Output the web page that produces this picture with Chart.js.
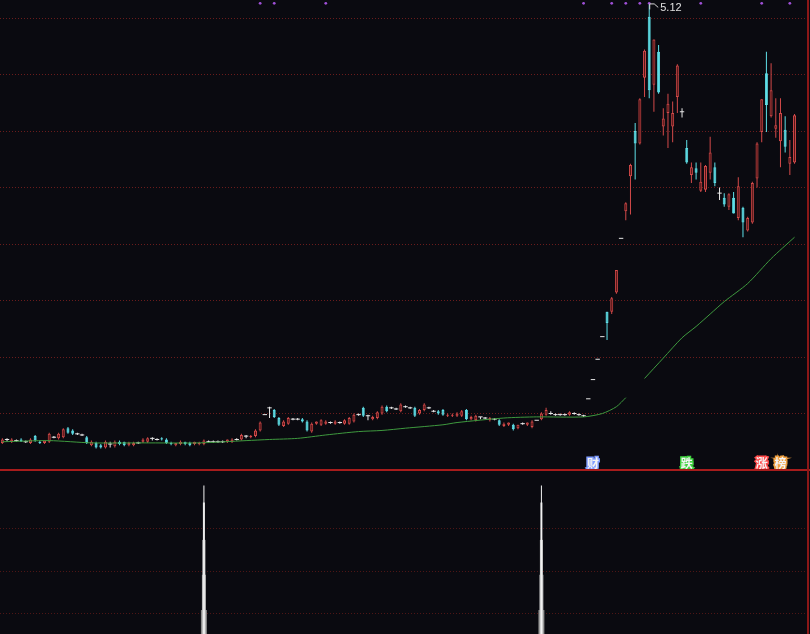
<!DOCTYPE html>
<html><head><meta charset="utf-8">
<script src="https://cdn.jsdelivr.net/npm/chart.js@4/dist/chart.umd.min.js"></script>
<style>
html,body{margin:0;padding:0;background:#0a0a10;}
#wrap{position:relative;width:810px;height:634px;overflow:hidden;background:#0a0a10;}
#c1{position:absolute;left:0;top:0;}
#c2{position:absolute;left:0;top:472px;}
#sep{position:absolute;left:0;top:469px;width:810px;height:2px;background:#a81c1c;}
#rb{position:absolute;left:807px;top:0;width:2px;height:634px;background:#8c1818;}
</style></head><body>
<div id="wrap">
<canvas id="c1" width="810" height="470"></canvas>
<canvas id="c2" width="810" height="162"></canvas>
<div id="sep"></div><div id="rb"></div>
</div>
<script>
// ---- data (daily candles, index 0..169) ----
const opens = [1.24,1.27,1.25,1.26,1.27,1.25,1.24,1.30,1.25,1.24,1.25,1.29,1.28,1.29,1.37,1.35,1.32,1.31,1.29,1.22,
1.24,1.22,1.20,1.23,1.21,1.25,1.25,1.22,1.22,1.24,1.25,1.25,1.28,1.27,1.28,1.27,1.24,1.22,1.23,1.25,
1.24,1.23,1.23,1.23,1.25,1.25,1.25,1.25,1.25,1.25,1.27,1.27,1.30,1.29,1.30,1.35,1.49,1.55,1.53,1.46,
1.39,1.41,1.45,1.45,1.45,1.43,1.34,1.41,1.40,1.41,1.42,1.41,1.42,1.41,1.41,1.43,1.49,1.55,1.48,1.45,
1.46,1.50,1.56,1.55,1.54,1.52,1.56,1.55,1.55,1.50,1.53,1.55,1.52,1.52,1.53,1.48,1.48,1.48,1.48,1.53,
1.45,1.44,1.47,1.46,1.44,1.45,1.44,1.39,1.40,1.40,1.37,1.41,1.40,1.38,1.44,1.45,1.49,1.50,1.49,1.49,
1.49,1.49,1.50,1.49,1.48,1.63,1.80,1.98,2.18,2.40,2.40,2.57,3.05,3.29,3.60,4.00,3.89,4.47,5.01,4.41,
4.70,4.04,4.16,4.04,4.30,4.17,3.85,3.61,3.67,3.47,3.48,3.63,3.68,3.45,3.41,3.33,3.41,3.23,3.32,3.12,
3.19,3.58,3.99,4.51,4.13,4.02,3.91,4.01,3.71,3.72];
const highs = [1.28,1.28,1.28,1.27,1.28,1.26,1.28,1.31,1.26,1.26,1.33,1.30,1.33,1.37,1.38,1.36,1.33,1.32,1.30,1.26,
1.25,1.23,1.26,1.25,1.26,1.26,1.25,1.25,1.25,1.25,1.28,1.29,1.29,1.28,1.29,1.28,1.25,1.24,1.26,1.25,
1.25,1.25,1.25,1.27,1.26,1.26,1.26,1.26,1.27,1.28,1.28,1.32,1.31,1.31,1.36,1.43,1.49,1.56,1.54,1.47,
1.44,1.47,1.46,1.46,1.46,1.44,1.42,1.43,1.45,1.44,1.43,1.44,1.43,1.45,1.47,1.50,1.50,1.56,1.49,1.48,
1.52,1.57,1.57,1.56,1.55,1.59,1.57,1.56,1.56,1.54,1.59,1.56,1.53,1.53,1.54,1.50,1.50,1.51,1.53,1.54,
1.48,1.49,1.47,1.47,1.47,1.46,1.45,1.42,1.42,1.41,1.40,1.42,1.42,1.44,1.44,1.51,1.55,1.52,1.50,1.50,
1.50,1.52,1.51,1.50,1.49,1.63,1.80,1.98,2.18,2.40,2.53,2.77,3.05,3.37,3.71,4.07,4.29,4.72,5.12,4.81,
4.76,4.20,4.33,4.26,4.59,4.20,3.92,3.72,3.72,3.72,3.70,3.95,3.72,3.50,3.45,3.45,3.46,3.59,3.33,3.24,
3.55,3.90,4.28,4.70,4.60,4.29,4.29,4.13,3.92,4.15];
const lows = [1.23,1.25,1.24,1.25,1.25,1.24,1.23,1.25,1.23,1.23,1.24,1.28,1.27,1.28,1.32,1.31,1.31,1.30,1.23,1.21,
1.19,1.19,1.19,1.20,1.20,1.22,1.21,1.21,1.21,1.23,1.24,1.24,1.26,1.26,1.26,1.23,1.22,1.21,1.22,1.22,
1.21,1.22,1.22,1.22,1.24,1.24,1.24,1.24,1.24,1.24,1.26,1.26,1.28,1.28,1.29,1.34,1.49,1.46,1.46,1.39,
1.38,1.40,1.44,1.44,1.42,1.34,1.33,1.40,1.39,1.40,1.41,1.40,1.41,1.40,1.40,1.42,1.48,1.47,1.44,1.44,
1.45,1.49,1.51,1.54,1.53,1.51,1.55,1.54,1.47,1.49,1.52,1.54,1.51,1.49,1.48,1.47,1.47,1.47,1.47,1.44,
1.44,1.43,1.45,1.45,1.43,1.44,1.39,1.38,1.39,1.35,1.36,1.40,1.39,1.37,1.44,1.44,1.48,1.49,1.48,1.48,
1.48,1.48,1.49,1.48,1.47,1.63,1.80,1.98,2.18,2.15,2.38,2.56,3.05,3.21,3.26,3.57,3.88,4.30,4.29,4.17,
4.33,3.96,3.85,3.90,4.16,4.12,3.71,3.54,3.57,3.46,3.46,3.57,3.51,3.39,3.33,3.30,3.27,3.21,3.06,3.11,
3.18,3.50,3.90,3.99,4.12,3.94,3.68,3.81,3.61,3.71];
const closes = [1.27,1.27,1.27,1.26,1.25,1.25,1.27,1.26,1.24,1.26,1.32,1.29,1.32,1.36,1.33,1.32,1.32,1.31,1.24,1.25,
1.20,1.20,1.25,1.23,1.25,1.23,1.22,1.24,1.24,1.24,1.27,1.28,1.28,1.27,1.27,1.24,1.23,1.24,1.25,1.23,
1.22,1.25,1.24,1.26,1.25,1.25,1.25,1.25,1.27,1.27,1.27,1.31,1.30,1.30,1.35,1.42,1.49,1.55,1.47,1.40,
1.43,1.46,1.45,1.45,1.43,1.35,1.41,1.43,1.44,1.43,1.42,1.43,1.42,1.44,1.46,1.49,1.49,1.48,1.48,1.47,
1.51,1.56,1.52,1.55,1.54,1.58,1.56,1.55,1.48,1.53,1.58,1.55,1.52,1.50,1.49,1.49,1.49,1.50,1.52,1.45,
1.47,1.48,1.47,1.46,1.46,1.45,1.40,1.41,1.42,1.36,1.40,1.41,1.42,1.43,1.44,1.50,1.53,1.50,1.49,1.49,
1.49,1.51,1.50,1.49,1.48,1.63,1.80,1.98,2.18,2.30,2.52,2.77,3.05,3.36,3.70,3.89,4.28,4.71,4.36,4.81,
4.34,4.11,4.24,4.16,4.58,4.17,3.72,3.68,3.63,3.55,3.69,3.81,3.54,3.45,3.35,3.44,3.27,3.51,3.19,3.23,
3.54,3.89,4.28,4.23,4.36,4.05,4.16,3.86,3.77,4.14];

// moving average (index, price); null = gap in the line
const maIdx = [0,10,19,30,42,52,57,63,69,76,81,86,94,97,107,114,124,128,131,133,135,137,141,145,148,151,154,159,164,169];
const maVal = [1.25,1.26,1.24,1.24,1.24,1.26,1.27,1.28,1.31,1.34,1.35,1.37,1.40,1.42,1.46,1.47,1.47,1.50,1.56,1.64,null,1.81,1.99,2.17,2.27,2.38,2.49,2.65,2.87,3.06];

// purple signal dots along the top edge
const sigIdx = [55,58,69,124,130,133,136,138,149,162,168];

// text markers under the candles
const markerIdx = [126,146,162,166];
const markerText = ['财','跌','涨','榜'];
const markerColor = ['#7f9cff','#3fd23f','#ff4a4a','#f0a040'];

// price grid levels
const gridPrices = [1.5,2.0,2.5,3.0,3.5,4.0,4.5,5.0];

// lower panel: spike indicator
const spikeIdx = [43,115];
const spikeLevels = [0.07,0.9,1.72,2.6,3.0];
const lowerGrid = [0,1,2];

// ---- styles ----
const BG='#0a0a10', UP='#d44a4a', UPFILL='#521616', DOWN='#5fe0e8', DOJI='#e8e8e8';
const idx = opens.map((_, i) => i);
const isDoji = i => opens[i] === closes[i];
const colorOf = i => isDoji(i) ? DOJI : (closes[i] > opens[i] ? UP : DOWN);

const wickData = idx.filter(i => highs[i] !== lows[i]).map(i => ({x:i, y:[lows[i], highs[i]]}));
const bodyData = idx.filter(i => !isDoji(i)).map(i => ({x:i, y:[opens[i], closes[i]]}));
const dojiData = idx.filter(isDoji).map(i => ({x:i, y:opens[i]}));
const maData = maIdx.map((x, k) => ({x, y:maVal[k]}));
const sigData = sigIdx.map(x => ({x, y:0.993}));

// grid drawn across the full canvas width
const gridPlugin = (levels, color) => ({
  id:'grid',
  beforeDatasetsDraw(chart){
    const ctx = chart.ctx, ys = chart.scales.y;
    ctx.save();
    ctx.strokeStyle = color; ctx.lineWidth = 1; ctx.setLineDash([1,2]);
    levels.forEach(v => {
      const y = Math.round(ys.getPixelForValue(v)) + 0.5;
      ctx.beginPath(); ctx.moveTo(0, y); ctx.lineTo(chart.width, y); ctx.stroke();
    });
    ctx.restore();
  }
});

const overlay = {
  id:'overlay',
  afterDatasetsDraw(chart){
    const ctx = chart.ctx, xs = chart.scales.x, ys = chart.scales.y, area = chart.chartArea;
    ctx.save();
    let mi = 0; highs.forEach((h,i)=>{ if(h>highs[mi]) mi=i; });
    const px = xs.getPixelForValue(mi), py = ys.getPixelForValue(highs[mi]);
    ctx.strokeStyle = '#d8d8d8'; ctx.lineWidth = 1;
    ctx.beginPath(); ctx.moveTo(px+0.5, py+5); ctx.lineTo(px+0.5, py-0.5); ctx.lineTo(px+5, py-0.5); ctx.lineTo(px+9, py+3); ctx.stroke();
    ctx.fillStyle = '#e0e0e0'; ctx.font = '11px "Liberation Sans", Arial, sans-serif';
    ctx.textBaseline = 'middle'; ctx.textAlign = 'left';
    ctx.fillText(highs[mi].toFixed(2), px+11, py+4);
    ctx.font = 'bold 12px "Noto Sans CJK SC", sans-serif';
    ctx.textAlign = 'center';
    markerIdx.forEach((m,k)=>{
      const x = xs.getPixelForValue(m), y = area.bottom - 7;
      ctx.lineWidth = 3; ctx.strokeStyle = markerColor[k]; ctx.strokeText(markerText[k], x, y);
      ctx.fillStyle = '#f4f4f4'; ctx.fillText(markerText[k], x, y);
    });
    ctx.restore();
  }
};

// x range: candle 0 centred at 2.3px, 4.67px per candle, plot reaching the right frame
const xMin = -0.5, xMax = 172.3;

new Chart(document.getElementById('c1'), {
  type:'bar',
  data:{datasets:[
    {type:'line', data:maData, borderColor:'#3f9a3f', borderWidth:1, pointRadius:0, tension:0.25, spanGaps:false, order:0},
    {type:'scatter', data:dojiData, pointStyle:'line', pointRadius:2.2, borderColor:DOJI, borderWidth:1, order:1},
    {type:'scatter', data:sigData, yAxisID:'ySig', pointStyle:'circle', pointRadius:1.4, backgroundColor:'#a050d8', borderColor:'#a050d8', borderWidth:0, order:1},
    {data:bodyData, grouped:false, barThickness:3, inflateAmount:0, borderSkipped:false, borderWidth:1,
      backgroundColor: c => c.raw && c.raw.y[1] > c.raw.y[0] ? UPFILL : DOWN,
      borderColor: c => c.raw && c.raw.y[1] > c.raw.y[0] ? UP : DOWN, order:2},
    {data:wickData, grouped:false, barThickness:1, inflateAmount:0, borderWidth:0,
      backgroundColor: c => c.raw ? colorOf(c.raw.x) : UP, order:3}
  ]},
  options:{
    responsive:false, animation:false, devicePixelRatio:1,
    layout:{padding:0, autoPadding:false},
    plugins:{legend:{display:false}, tooltip:{enabled:false}},
    scales:{
      x:{type:'linear', min:xMin, max:xMax, offset:false, display:false},
      y:{min:1.0, max:5.159, display:false},
      ySig:{min:0, max:1, display:false}
    }
  },
  plugins:[gridPlugin(gridPrices,'#6a1c1c'), overlay]
});

const spikeColors = ['#8a8a8a','#a8a8a8','#c4c4c4','#dedede','#f4f4f4'];
const spikeWidths = [6,4,3,2,1];
new Chart(document.getElementById('c2'), {
  type:'bar',
  data:{datasets: spikeLevels.map((lv,k)=>({
    data: spikeIdx.map(i=>({x:i, y:[-0.6, lv]})), grouped:false, barThickness:spikeWidths[k],
    inflateAmount:0, borderWidth:0, backgroundColor:spikeColors[k], order:10-k
  }))},
  options:{
    responsive:false, animation:false, devicePixelRatio:1,
    layout:{padding:0, autoPadding:false},
    plugins:{legend:{display:false}, tooltip:{enabled:false}},
    scales:{
      x:{type:'linear', min:xMin, max:xMax, offset:false, display:false},
      y:{min:-0.494, max:3.318, display:false}
    }
  },
  plugins:[gridPlugin(lowerGrid,'#4e1616')]
});
</script>
</body></html>
